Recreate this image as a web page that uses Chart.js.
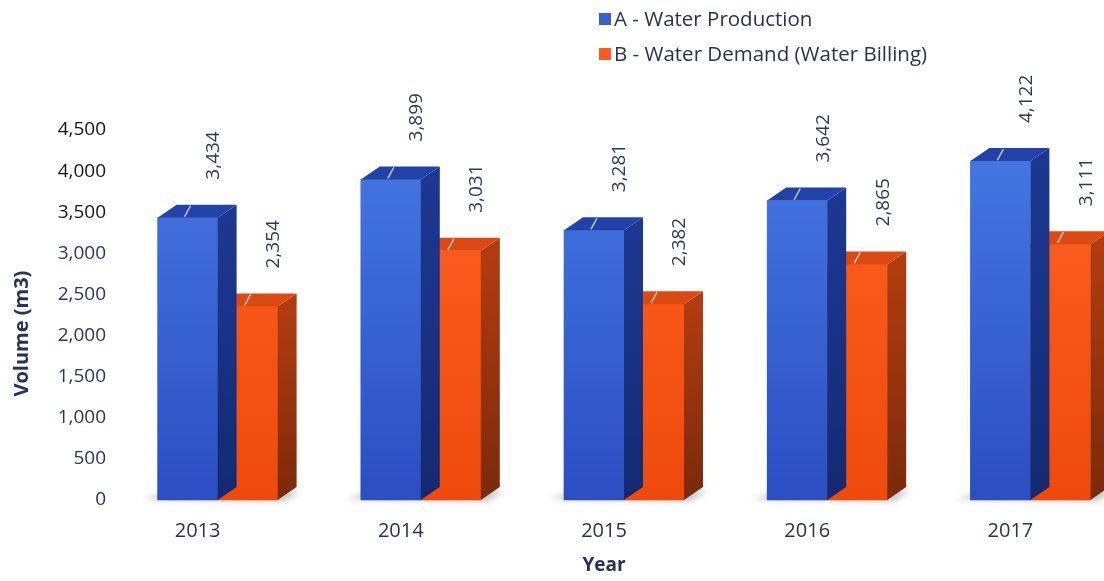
<!DOCTYPE html>
<html>
<head>
<meta charset="utf-8">
<script src="https://cdn.jsdelivr.net/npm/chart.js@4.4.0/dist/chart.umd.min.js"></script>
<style>
    html, body { margin: 0; padding: 0; background: #fff; overflow: hidden; }
    #wrap { position: relative; width: 1104px; height: 581px; overflow: hidden; }
    #water-chart { display: block; }
    #legend { position: absolute; left: 599px; top: 1px; font-family: 'Open Sans', sans-serif; font-size: 20.5px; color: #2a3158; }
    #legend div { height: 35px; line-height: 34px; white-space: nowrap; }
    #legend span { display: inline-block; width: 12px; height: 12px; margin-right: 3px; vertical-align: 1px; }
</style>
</head>
<body>
<div id="wrap">
    <!-- canvas is a bit wider than the window: the last group runs off the edge in the original -->
    <canvas id="water-chart" width="1132" height="581"></canvas>
    <div id="legend"></div>
</div>
<script>
const years = ['2013', '2014', '2015', '2016', '2017'];
const production = [3434, 3899, 3281, 3642, 4122];
const demand = [2354, 3031, 2382, 2865, 3111];
const seriesNames = ['A - Water Production', 'B - Water Demand (Water Billing)'];
const yTicks = [0, 500, 1000, 1500, 2000, 2500, 3000, 3500, 4000, 4500];
const xTitle = 'Year';
const yTitle = 'Volume (m3)';

// face colours for the fake 3d boxes
const palette = [
    { front: ['#4679e4', '#2b4ec2'], side: ['#1d3892', '#132a72'], top: '#2242a8', key: '#3a5fcd' },
    { front: ['#ff6222', '#ef4a0c'], side: ['#b13c0f', '#7a2a0a'], top: '#da4a12', key: '#ff5a1f' }
];
const DX = 19, DY = -13;
const LABEL_SHIFT = -20;

function frontFill(i) {
    return (context) => {
        const area = context.chart.chartArea;
        if (!area) return palette[i].front[0];
        const g = context.chart.ctx.createLinearGradient(0, area.top, 0, area.bottom);
        g.addColorStop(0, palette[i].front[0]);
        g.addColorStop(1, palette[i].front[1]);
        return g;
    };
}

const floorShadow = {
    id: 'floorShadow',
    beforeDatasetsDraw(chart) {
        const ctx = chart.ctx;
        const a = chart.getDatasetMeta(0).data, b = chart.getDatasetMeta(1).data;
        ctx.save();
        ctx.filter = 'blur(3px)';
        ctx.fillStyle = 'rgba(140,140,140,0.55)';
        a.forEach((bar, i) => {
            const l = bar.x - bar.width / 2;
            const r = b[i].x + b[i].width / 2;
            const base = bar.base;
            ctx.beginPath();
            ctx.moveTo(l - 14, base - 1);
            ctx.lineTo(l + DX - 6, base + DY + 4);
            ctx.lineTo(r + DX + 4, base + DY + 4);
            ctx.lineTo(r + 6, base + 1);
            ctx.closePath();
            ctx.fill();
        });
        ctx.restore();
    }
};

const boxPlugin = {
    id: 'box3d',
    afterDatasetDraw(chart, args) {
        const ctx = chart.ctx;
        const col = palette[args.index];
        ctx.save();
        args.meta.data.forEach(bar => {
            const { x, y, base, width } = bar.getProps(['x', 'y', 'base', 'width'], true);
            const l = x - width / 2, r = x + width / 2;
            const sg = ctx.createLinearGradient(0, y, 0, base);
            sg.addColorStop(0, col.side[0]);
            sg.addColorStop(1, col.side[1]);
            ctx.fillStyle = sg;
            ctx.beginPath();
            ctx.moveTo(r, y);
            ctx.lineTo(r + DX, y + DY);
            ctx.lineTo(r + DX, base + DY);
            ctx.lineTo(r, base);
            ctx.closePath();
            ctx.fill();

            ctx.fillStyle = col.top;
            ctx.beginPath();
            ctx.moveTo(l, y);
            ctx.lineTo(l + DX, y + DY);
            ctx.lineTo(r + DX, y + DY);
            ctx.lineTo(r, y);
            ctx.closePath();
            ctx.fill();

            // leader line stub on the lid
            ctx.strokeStyle = 'rgba(215,215,225,0.85)';
            ctx.lineWidth = 1.5;
            ctx.beginPath();
            ctx.moveTo(x - 3, y - 1);
            ctx.lineTo(x + 3, y + DY + 1);
            ctx.stroke();
        });
        ctx.restore();
    }
};

const valueLabels = {
    id: 'valueLabels',
    afterDatasetsDraw(chart) {
        const ctx = chart.ctx;
        ctx.save();
        ctx.font = '19px "Open Sans", sans-serif';
        ctx.fillStyle = '#2c3a52';
        ctx.textAlign = 'left';
        ctx.textBaseline = 'middle';
        chart.data.datasets.forEach((ds, di) => {
            chart.getDatasetMeta(di).data.forEach((bar, i) => {
                ctx.save();
                ctx.translate(bar.x + 26, bar.y + DY - 25);
                ctx.rotate(-Math.PI / 2);
                ctx.fillText(ds.data[i].toLocaleString('en-US'), 0, 0);
                ctx.restore();
            });
        });
        ctx.restore();
    }
};

// axis titles: centred on the tick labels rather than on the bars
const axisTitles = {
    id: 'axisTitles',
    afterDraw(chart) {
        const ctx = chart.ctx;
        const { x, y } = chart.scales;
        ctx.save();
        ctx.fillStyle = '#2a3158';
        ctx.textAlign = 'center';
        ctx.textBaseline = 'middle';
        ctx.font = 'bold 19px "Open Sans", sans-serif';
        ctx.fillText(xTitle, (x.left + x.right) / 2 + LABEL_SHIFT, 566);
        ctx.font = 'bold 20px "Open Sans", sans-serif';
        ctx.translate(22, y.getPixelForValue(2000) - 2);
        ctx.rotate(-Math.PI / 2);
        ctx.fillText(yTitle, 0, 0);
        ctx.restore();
    }
};

document.getElementById('legend').innerHTML = seriesNames.map((n, i) =>
    `<div><span style="background:${palette[i].key}"></span>${n}</div>`).join('');

new Chart(document.getElementById('water-chart'), {
    type: 'bar',
    data: {
        labels: years,
        datasets: [
            { label: seriesNames[0], data: production, backgroundColor: frontFill(0), barThickness: 60, clip: false },
            { label: seriesNames[1], data: demand, backgroundColor: frontFill(1), barThickness: 60, clip: false }
        ]
    },
    options: {
        responsive: false,
        animation: false,
        layout: { padding: { top: 130, right: 0, left: 0, bottom: 0 } },
        scales: {
            x: {
                offset: true,
                grid: { display: false, drawTicks: false },
                border: { display: false },
                ticks: { color: '#2a3158', font: { family: 'Open Sans', size: 20 }, padding: 19, labelOffset: LABEL_SHIFT },
                afterFit(scale) { scale.height = 81; }
            },
            y: {
                min: 0,
                max: 4500,
                grid: { display: false, drawTicks: false },
                border: { display: false },
                afterBuildTicks(scale) { scale.ticks = yTicks.map(v => ({ value: v })); },
                ticks: {
                    padding: 10,
                    font: { family: 'Open Sans', size: 19 },
                    color: (c) => c.tick.value >= 3500 ? '#151515' : '#2b3366',
                    callback: (v) => v.toLocaleString('en-US')
                },
                afterFit(scale) { scale.width = 116; }
            }
        },
        plugins: {
            legend: { display: false },
            tooltip: { enabled: false }
        }
    },
    plugins: [floorShadow, boxPlugin, valueLabels, axisTitles]
});
</script>
</body>
</html>
